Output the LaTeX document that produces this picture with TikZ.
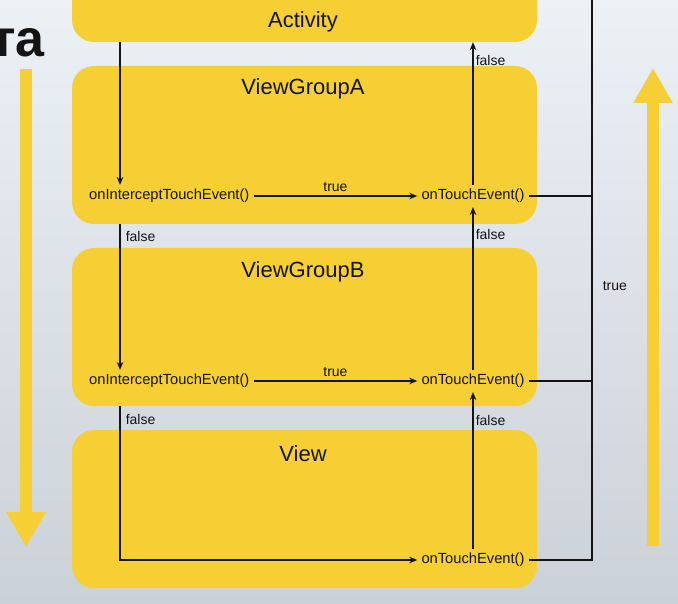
\documentclass[tikz,border=0pt]{standalone}
\usepackage{fontspec}
\setmainfont{Liberation Sans}
\usetikzlibrary{arrows.meta,positioning,calc}
\definecolor{panel}{RGB}{246,207,52}
\definecolor{bgtop}{RGB}{236,241,246}
\definecolor{bgbot}{RGB}{203,209,216}
\definecolor{ink}{RGB}{20,20,20}

\begin{document}
\begin{tikzpicture}[x=1pt, y=-1pt, every node/.style={font=\fontsize{14.7}{17}\selectfont, text=ink, inner sep=4pt}]
\tikzset{layer/.style={fill=panel, rounded corners=22pt, minimum width=465pt, inner sep=0pt},
  title/.style={font=\fontsize{22}{26}\selectfont},
  lbl/.style={font=\fontsize{14}{16}\selectfont, inner sep=2pt},
  wire/.style={line width=1.5pt, ink},
  flow/.style={wire, -{Stealth[length=8pt,width=6.5pt]}},
  big/.style={line width=12pt, panel, -{Triangle[length=35pt,width=37pt]}}}
\clip (0,0) rectangle (678,604);
\shade[top color=bgtop, bottom color=bgbot] (0,0) rectangle (678,604);

% layers
\node[layer, minimum height=100pt] (act) at (304.5,-8) {};
\node[layer, minimum height=158pt] (vga) at (304.5,145) {};
\node[layer, minimum height=158pt] (vgb) at (304.5,327) {};
\node[layer, minimum height=158pt] (view) at (304.5,509) {};
\node[title] (tact) at (303,22) {Activity};
\node[title] (tvga) at (303,89) {ViewGroupA};
\node[title] (tvgb) at (303,272) {ViewGroupB};
\node[title] (tview) at (303,454) {View};

% methods
\node[anchor=west] (icA) at (85,196) {onInterceptTouchEvent()};
\node (teA) at (473,196) {onTouchEvent()};
\node[anchor=west] (icB) at (85,381) {onInterceptTouchEvent()};
\node (teB) at (473,381) {onTouchEvent()};
\node (teV) at (473,560) {onTouchEvent()};
\coordinate (lx) at (120,0);
\coordinate (bx) at (592,0);

% down the chain
\draw[flow] (act.south -| lx) -- (icA.north -| lx);
\draw[flow] (icA) -- node[lbl, above, yshift=1.5pt]{true} (teA);
\draw[flow] (vga.south -| lx) -- node[lbl, right, pos=0.085, xshift=3pt]{false} (icB.north -| lx);
\draw[flow] (icB) -- node[lbl, above, yshift=1.5pt]{true} (teB);
\draw[flow] (vgb.south -| lx) -- node[lbl, right, pos=0.085, xshift=3pt]{false} (teV.west -| lx) -- (teV.west);

% back up
\draw[flow] (teV) -- node[lbl, right, pos=0.82]{false} (teB);
\draw[flow] (teB) -- node[lbl, right, pos=0.83]{false} (teA);
\draw[flow] (teA) -- node[lbl, right, pos=0.87]{false} (act.south -| teA);
\draw[wire] (teA.east) -- (teA.east -| bx);
\draw[wire] (teB.east) -- (teB.east -| bx);
\draw[wire] (teV.east) -- (teV.east -| bx) -- node[lbl, right, pos=0.485, xshift=8pt]{true} ($(bx)+(0,-5)$);

% big arrows
\node[font=\fontsize{52}{52}\selectfont\bfseries, anchor=base east, inner sep=0pt] (word) at (45,57) {та};
\draw[big] (26,69) -- (26,547);
\draw[big] (653,546) -- (653,68);
\end{tikzpicture}
\end{document}
